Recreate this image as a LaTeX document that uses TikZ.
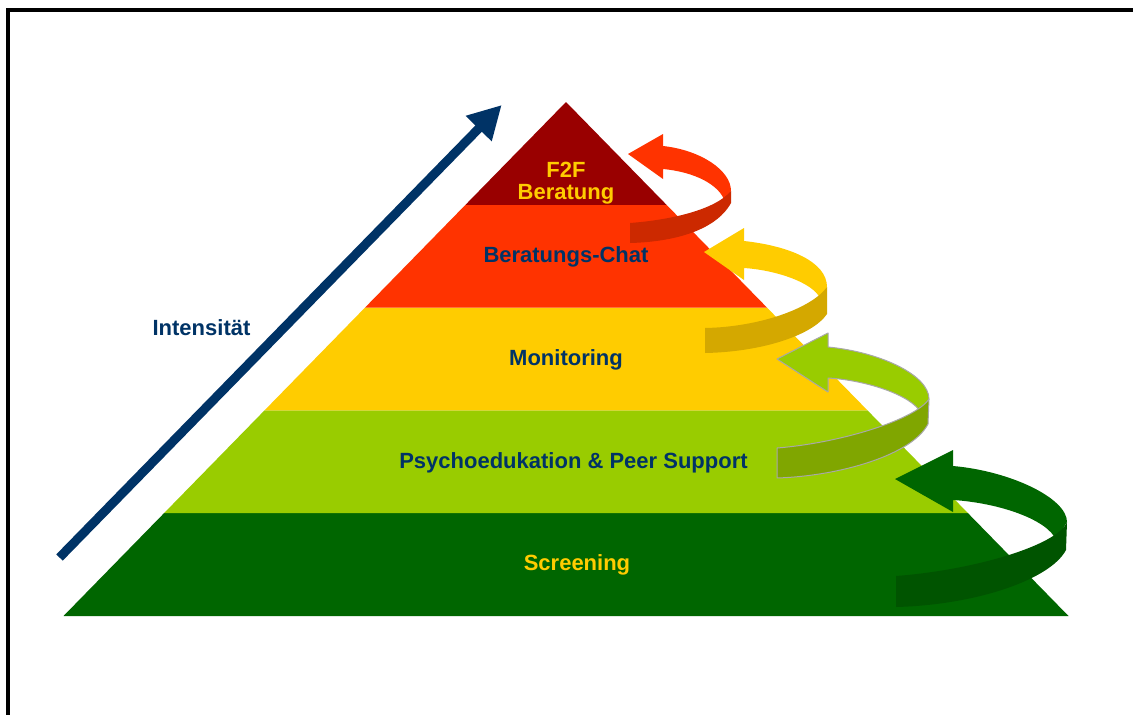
\documentclass[tikz,border=0pt]{standalone}
\usepackage{fontspec}
\setmainfont{Liberation Sans}
\usetikzlibrary{arrows.meta}

\definecolor{navy}{HTML}{003366}
\definecolor{gold}{HTML}{FFCC00}
\definecolor{f2fred}{HTML}{990000}
\definecolor{chatred}{HTML}{FF3300}
\definecolor{monyellow}{HTML}{FFCC00}
\definecolor{psygreen}{HTML}{99CC00}
\definecolor{scrgreen}{HTML}{006600}
\definecolor{redwall}{HTML}{CC2900}
\definecolor{yellowwall}{HTML}{D4A800}
\definecolor{lgwall}{HTML}{80A600}
\definecolor{dgwall}{HTML}{005400}
\definecolor{ribbonedge}{HTML}{A8A8A8}

\begin{document}
\begin{tikzpicture}[x=1pt,y=-1pt,
  lbl/.style={font=\bfseries\fontsize{22}{26}\selectfont, anchor=base, inner sep=0pt},
  intarrow/.style={draw=navy, line width=9pt,
    -{Triangle[length=33pt,width=34pt,fill=navy]}},
  edged/.style={draw=ribbonedge, line width=1pt, line join=round}]

\useasboundingbox (0,0) rectangle (1133,715);
\fill[white] (0,0) rectangle (1133,715);

% frame: top and left rules
\draw[line width=4pt] (8,715) -- (8,10) -- (1133,10);

% pyramid layers, bottom to top
\fill[scrgreen]  (63.5,616) -- (1068.5,616) -- (968,513.2) -- (164,513.2) -- cycle;
\fill[psygreen]  (164,513.2) -- (968,513.2) -- (867.5,410.4) -- (264.5,410.4) -- cycle;
\fill[monyellow] (264.5,410.4) -- (867.5,410.4) -- (767,307.6) -- (365,307.6) -- cycle;
\fill[chatred]   (365,307.6) -- (767,307.6) -- (666.5,204.8) -- (465.5,204.8) -- cycle;
\fill[f2fred]    (465.5,204.8) -- (666.5,204.8) -- (566,102) -- cycle;

% layer labels
\node[lbl, text=gold] (f2f) at (566,177) {F2F};
\node[lbl, text=gold] (beratung) at (566,199) {Beratung};
\node[lbl, text=navy] (chat) at (566,262) {Beratungs-Chat};
\node[lbl, text=navy] (monitoring) at (566,365) {Monitoring};
\node[lbl, text=navy] (psycho) at (573.5,468) {Psychoedukation \& Peer Support};
\node[lbl, text=gold] (screening) at (577,570) {Screening};

% intensity axis
\node[lbl, text=navy] (intens) at (201.5,335) {Intensität};
\coordinate (intlow) at (59.5,557.5);
\coordinate (inthigh) at (501.7,105);
\draw[intarrow] (intlow) -- (inthigh);

% curved ribbon arrows: lit inner face with head, then darker front wall
% F2F / chat
\fill[chatred] (628,154) -- (663,134) -- (663,146)
  .. controls (700,150) and (731,170) .. (731,191) -- (725,202)
  .. controls (720,185) and (695,172) .. (663,169) -- (663,179) -- cycle;
\fill[redwall] (731,191) .. controls (715,210) and (670,220) .. (630,223)
  -- (630,243) .. controls (670,242) and (715,232) .. (731,203) -- cycle;

% chat / monitoring
\fill[monyellow] (704,252) -- (744,228) -- (744,241)
  .. controls (790,246) and (827,262) .. (827,287) -- (820,298)
  .. controls (812,282) and (775,270) .. (744,268) -- (744,280) -- cycle;
\fill[yellowwall] (827,287) .. controls (812,308) and (760,327) .. (705,328)
  -- (705,353) .. controls (760,352) and (812,336) .. (827,314) -- cycle;

% monitoring / psychoeducation
\filldraw[psygreen, edged] (777,359) -- (828,333) -- (828,347)
  .. controls (880,352) and (929,375) .. (929,399) -- (921,413)
  .. controls (912,395) and (865,380) .. (828,378) -- (828,392) -- cycle;
\filldraw[lgwall, edged] (929,399) .. controls (915,420) and (840,443) .. (777,448)
  -- (777,478) .. controls (840,476) and (912,455) .. (928,424) -- cycle;

% psychoeducation / screening
\fill[scrgreen] (895,479) -- (953,450) -- (953,466)
  .. controls (1010,471) and (1067,498) .. (1067,522) -- (1056,540)
  .. controls (1048,520) and (1000,503) .. (953,500) -- (953,512) -- cycle;
\fill[dgwall] (1067,522) .. controls (1058,545) and (975,570) .. (896,576)
  -- (896,607) .. controls (975,605) and (1050,580) .. (1066,550) -- cycle;

\end{tikzpicture}
\end{document}
